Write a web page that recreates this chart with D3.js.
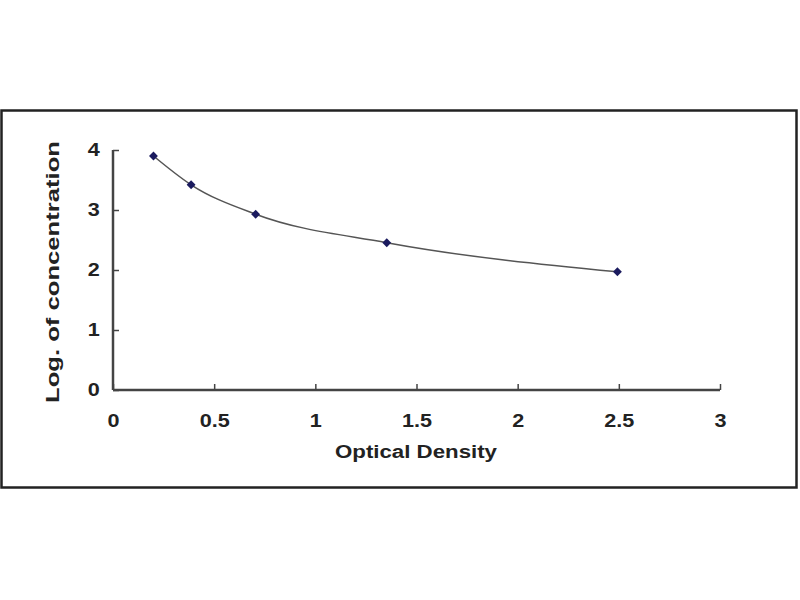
<!DOCTYPE html>
<html>
<head>
<meta charset="utf-8">
<script src="https://cdn.jsdelivr.net/npm/d3@7"></script>
<style>
  body { margin: 0; background: #fff; }
  text { font-family: "Liberation Sans", Arial, sans-serif; font-weight: bold; fill: #222; }
</style>
</head>
<body>
<script>
// standard curve points
const opticalDensity = [0.2, 0.386, 0.705, 1.353, 2.493];
const logConcentration = [3.9, 3.42, 2.93, 2.455, 1.97];
const xTicks = [0, 0.5, 1, 1.5, 2, 2.5, 3];
const yTicks = [0, 1, 2, 3, 4];

const svg = d3.select('body').append('svg')
    .attr('width', 800).attr('height', 600);

// outer frame
svg.append('rect')
    .attr('x', 1.5).attr('y', 110.5)
    .attr('width', 795).attr('height', 377)
    .attr('fill', '#fff').attr('stroke', '#222').attr('stroke-width', 2.5);

let x = d3.scaleLinear().domain([0, 3]).range([113, 720]),
    y = d3.scaleLinear().domain([0, 4]).range([390, 150]);

let xAxis = d3.axisBottom(x).tickValues(xTicks).tickSize(-6).tickPadding(24)
              .tickFormat(d3.format('')),
    yAxis = d3.axisLeft(y).tickValues(yTicks).tickSize(-6).tickPadding(11)
              .tickFormat(d3.format(''));

const gx = svg.append('g').attr('transform', 'translate(0, 390)').call(xAxis);
const gy = svg.append('g').attr('transform', 'translate(113, 0)').call(yAxis);

[gx, gy].forEach(g => {
    g.select('.domain').attr('stroke', '#444').attr('stroke-width', 2.5);
    g.selectAll('.tick line').attr('stroke', '#444').attr('stroke-width', 1.5);
    g.selectAll('.tick text').attr('font-size', 18).attr('fill', '#222')
        .attr('font-family', '"Liberation Sans", Arial, sans-serif').attr('font-weight', 'bold')
        .attr('transform', 'scale(1.2, 1)');   // picture's glyphs are a bit wide
});
// axis is just a line, no end caps
gx.select('.domain').attr('d', `M${x(0)},0H${x(3)}`);
gy.select('.domain').attr('d', `M0,${y(0)}V${y(4)}`);

const pts = opticalDensity.map((d, i) => ({ od: d, lc: logConcentration[i] }));

let valueLine = d3.line()
    .x(d => x(d.od))
    .y(d => y(d.lc))
    .curve(d3.curveMonotoneX);

svg.append('path')
    .attr('d', valueLine(pts))
    .attr('fill', 'none').attr('stroke', '#555').attr('stroke-width', 1.5);

svg.append('g').selectAll('path').data(pts).join('path')
    .attr('transform', d => `translate(${x(d.od)}, ${y(d.lc)})`)
    .attr('d', d3.symbol(d3.symbolDiamond2, 50))
    .attr('fill', '#1a1a5e');

svg.append('text')
    .attr('x', 416).attr('y', 458)
    .attr('text-anchor', 'middle').attr('font-size', 18)
    .attr('textLength', 162).attr('lengthAdjust', 'spacingAndGlyphs')
    .text('Optical Density');

svg.append('text')
    .attr('transform', 'translate(59, 272) rotate(-90)')
    .attr('text-anchor', 'middle').attr('font-size', 18)
    .attr('textLength', 262).attr('lengthAdjust', 'spacingAndGlyphs')
    .text('Log. of concentration');
</script>
</body>
</html>
